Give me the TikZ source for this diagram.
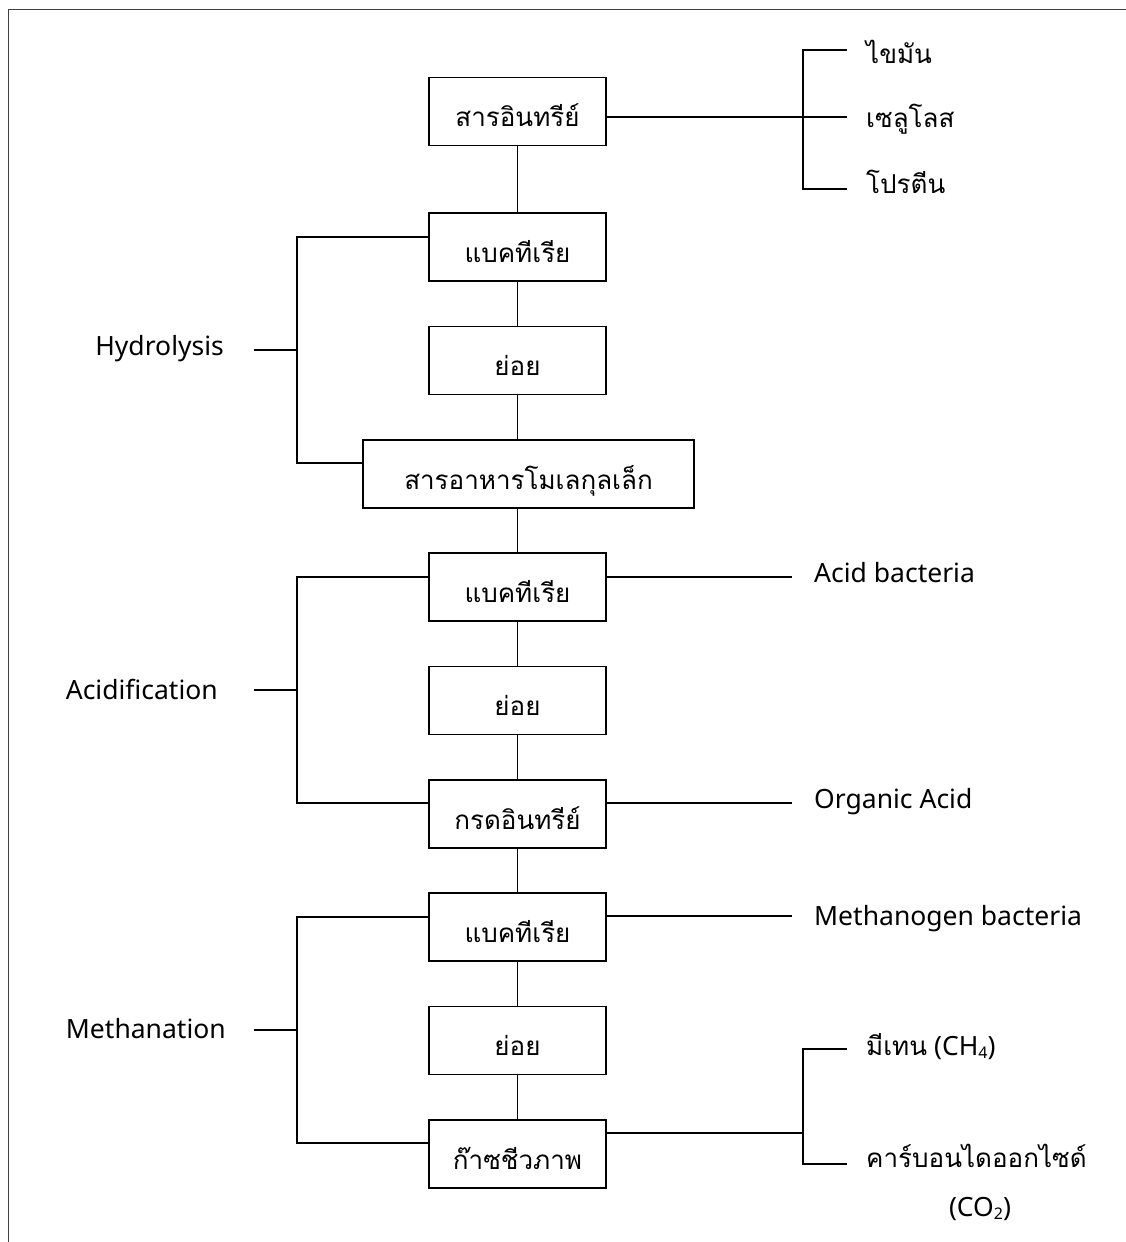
\documentclass[tikz,border=0pt]{standalone}
\usepackage{fontspec}
\setmainfont{Noto Sans}
\newfontfamily\thai[Script=Thai]{Loma}
\begin{document}
\begin{tikzpicture}[x=1pt,y=-1pt,
  ln/.style={line width=1.5pt,black},
  box/.style={draw,line width=1.5pt,minimum width=177pt,minimum height=68pt,inner sep=0pt,
    text height=34pt,text depth=4pt,font=\thai\fontsize{26}{30}\selectfont},
  en/.style={inner sep=0pt,font=\fontsize{26.5}{30}\selectfont},
  th/.style={inner sep=0pt,font=\thai\fontsize{26}{30}\selectfont}]
\useasboundingbox (0,0) rectangle (1126,1242);
% frame
\draw[line width=1.8pt,black!75] (8.5,1242) -- (8.5,9.5) -- (1126,9.5);
% boxes
\node[box] (b1) at (517.5,111.5) {สารอินทรีย์};
\node[box] (b2) at (517.5,247) {แบคทีเรีย};
\node[box] (b3) at (517.5,360.5) {ย่อย};
\node[box,minimum width=331pt] (b4) at (528.5,474) {สารอาหารโมเลกุลเล็ก};
\node[box] (b5) at (517.5,587) {แบคทีเรีย};
\node[box] (b6) at (517.5,700.5) {ย่อย};
\node[box] (b7) at (517.5,814) {กรดอินทรีย์};
\node[box] (b8) at (517.5,927) {แบคทีเรีย};
\node[box] (b9) at (517.5,1040.5) {ย่อย};
\node[box] (b10) at (517.5,1154) {ก๊าซชีวภาพ};
% vertical chain
\foreach \a/\b in {b1/b2,b2/b3,b3/b4,b4/b5,b5/b6,b6/b7,b7/b8,b8/b9,b9/b10}
  \draw[ln] (\a.south -| b1.south) -- (\b.north -| b1.south);
% top right bracket
\coordinate (r1t) at (803,50);
\coordinate (r1m) at (803,117);
\coordinate (r1b) at (803,189);
\coordinate (r1te) at (847,50);
\coordinate (r1me) at (847,117);
\coordinate (r1be) at (847,189);
\draw[ln] (b1.east |- r1m) -- (r1me);
\draw[ln] (r1te) -- (r1t) -- (r1b) -- (r1be);
\node[th,anchor=base west] (fat) at (866,63) {ไขมัน};
\node[th,anchor=base west] (cel) at (866,127) {เซลูโลส};
\node[th,anchor=base west] (pro) at (866,193) {โปรตีน};
% hydrolysis
\coordinate (hyt) at (297,237);
\coordinate (hyb) at (297,463);
\coordinate (hyk) at (254,350);
\draw[ln] (b2.west |- hyt) -- (hyt) -- (hyb) -- (b4.west |- hyb);
\draw[ln] (hyk) -- (hyk -| hyt);
\node[en,anchor=base east] (hyl) at (224,355) {Hydrolysis};
% acidification
\coordinate (act) at (297,577);
\coordinate (acb) at (297,803);
\coordinate (ack) at (254,690);
\draw[ln] (b5.west |- act) -- (act) -- (acb) -- (b7.west |- acb);
\draw[ln] (ack) -- (ack -| act);
\node[en,anchor=base east] (acl) at (218,699) {Acidification};
% methanation
\coordinate (met) at (297,917);
\coordinate (meb) at (297,1143);
\coordinate (mek) at (254,1030);
\draw[ln] (b8.west |- met) -- (met) -- (meb) -- (b10.west |- meb);
\draw[ln] (mek) -- (mek -| met);
\node[en,anchor=base east] (mel) at (226,1038) {Methanation};
% right labels
\coordinate (abe) at (792,577);
\coordinate (oae) at (792,803);
\coordinate (mbe) at (792,916);
\draw[ln] (b5.east |- abe) -- (abe);
\draw[ln] (b7.east |- oae) -- (oae);
\draw[ln] (b8.east |- mbe) -- (mbe);
\node[en,anchor=base west] (abl) at (814,582) {Acid bacteria};
\node[en,anchor=base west] (oal) at (814,808) {Organic Acid};
\node[en,anchor=base west] (mbl) at (814,925) {Methanogen bacteria};
% bottom right bracket
\coordinate (r2t) at (803,1049);
\coordinate (r2m) at (803,1133);
\coordinate (r2b) at (803,1164);
\coordinate (r2te) at (847,1049);
\coordinate (r2be) at (847,1164);
\draw[ln] (b10.east |- r2m) -- (r2m);
\draw[ln] (r2te) -- (r2t) -- (r2b) -- (r2be);
\node[anchor=base west,inner sep=0pt] (ch4) at (866,1055) {{\thai\fontsize{26}{30}\selectfont มีเทน}\hspace{7pt}{\fontsize{26.5}{30}\selectfont (CH\raisebox{-0.25ex}{\fontsize{16}{18}\selectfont 4})}};
\node[th,anchor=base west] (co2a) at (866,1167) {คาร์บอนไดออกไซด์};
\node[en,anchor=base] (co2b) at (980,1216) {(CO\raisebox{-0.25ex}{\fontsize{16}{18}\selectfont 2})};
\end{tikzpicture}
\end{document}
